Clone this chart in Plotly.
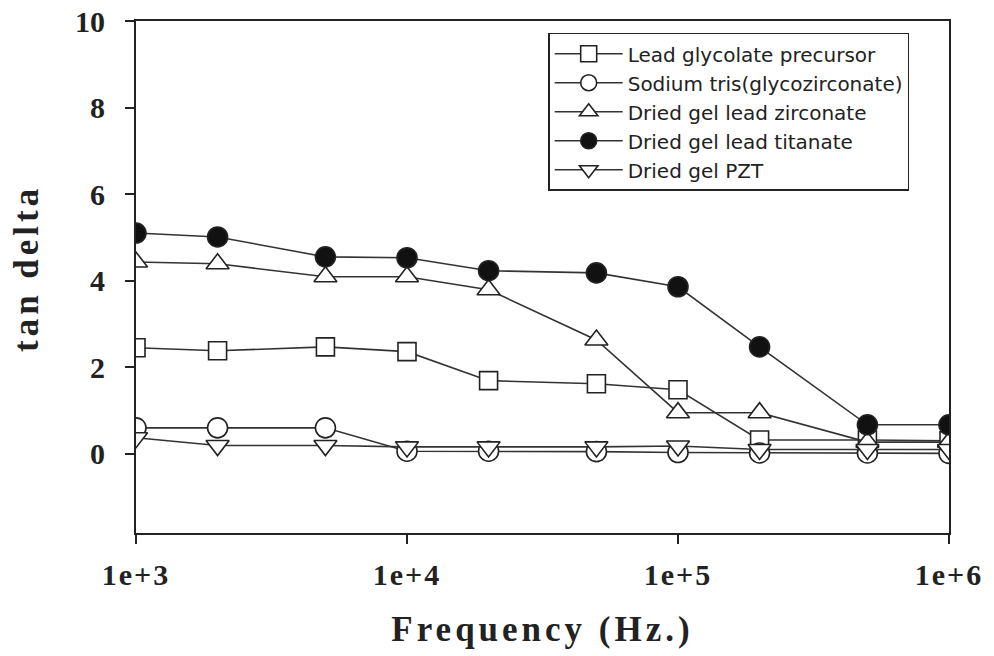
import plotly.graph_objects as go

# Frequency sweep (Hz) and measured loss tangent for each sample
freq = [1e3, 2e3, 5e3, 1e4, 2e4, 5e4, 1e5, 2e5, 5e5, 1e6]

lead_glycolate = [2.45, 2.38, 2.47, 2.36, 1.69, 1.62, 1.48, 0.32, 0.32, 0.30]
sodium_tris = [0.60, 0.60, 0.60, 0.06, 0.06, 0.05, 0.03, 0.02, 0.02, 0.01]
gel_zirconate = [4.43, 4.39, 4.09, 4.09, 3.79, 2.63, 0.95, 0.95, 0.27, 0.27]
gel_titanate = [5.10, 5.01, 4.55, 4.53, 4.23, 4.18, 3.86, 2.47, 0.67, 0.67]
gel_pzt = [0.37, 0.19, 0.19, 0.16, 0.16, 0.16, 0.18, 0.10, 0.10, 0.10]

series_names = [
    "Lead glycolate precursor",
    "Sodium tris(glycozirconate)",
    "Dried gel lead zirconate",
    "Dried gel lead titanate",
    "Dried gel PZT",
]
series_values = [lead_glycolate, sodium_tris, gel_zirconate, gel_titanate, gel_pzt]
symbols = ["square", "circle", "triangle-up", "circle", "triangle-down"]
fills = ["white", "white", "white", "#111111", "white"]
sizes = [18, 20, 20, 20, 20]

x_ticks = [1e3, 1e4, 1e5, 1e6]
x_tick_text = ["1e+3", "1e+4", "1e+5", "1e+6"]
y_ticks = [0, 2, 4, 6, 8, 10]

ink = "#222222"
fig = go.Figure()
for name, vals, sym, fc, sz in zip(series_names, series_values, symbols, fills, sizes):
    fig.add_trace(go.Scatter(
        x=freq, y=vals, name=name, mode="lines+markers",
        line=dict(color="#333333", width=1.6),
        marker=dict(symbol=sym, size=sz, color=fc, line=dict(color=ink, width=1.6)),
    ))

serif = "Liberation Serif, Times New Roman, serif"
fig.update_layout(
    width=994, height=656,
    margin=dict(l=136, r=45, t=21, b=123, autoexpand=False),
    paper_bgcolor="white", plot_bgcolor="white",
    showlegend=True,
    legend=dict(
        x=0.507, y=0.977, xanchor="left", yanchor="top",
        bordercolor=ink, borderwidth=1.5, bgcolor="white",
        font=dict(family="DejaVu Sans, Verdana, sans-serif", size=20, color=ink),
        tracegroupgap=0, itemwidth=68,
    ),
    xaxis=dict(
        type="log", range=[3, 6], tickvals=x_ticks,
        ticktext=["<b>%s</b>" % t for t in x_tick_text],
        tickfont=dict(family=serif, size=30, color=ink),
        ticks="outside", ticklen=9, tickwidth=1.5, tickcolor=ink,
        ticklabelstandoff=5, automargin=False,
        showline=True, linecolor=ink, linewidth=2, mirror=True,
        showgrid=False, zeroline=False,
        title=dict(text="<b>Frequency (Hz.)</b>",
                   font=dict(family=serif, size=35, color=ink), standoff=26),
    ),
    yaxis=dict(
        range=[-1.83, 10], tickvals=y_ticks,
        ticktext=["<b>%d</b>" % v for v in y_ticks],
        tickfont=dict(family=serif, size=30, color=ink),
        ticks="outside", ticklen=9, tickwidth=1.5, tickcolor=ink,
        ticklabelstandoff=14, automargin=False,
        showline=True, linecolor=ink, linewidth=2, mirror=True,
        showgrid=False, zeroline=False,
    ),
    annotations=[dict(
        text="<b>tan delta</b>", textangle=-90, showarrow=False,
        xref="paper", yref="paper", x=0, y=0.5,
        xanchor="center", yanchor="middle", xshift=-110, yshift=8,
        font=dict(family=serif, size=35, color=ink),
    )],
)

# Widen the letter spacing of the axis titles and tick labels
spacing_js = """
var gd = document.getElementById('{plot_id}');
function spaceText() {
  gd.querySelectorAll('.g-xtitle text, .annotation-text').forEach(function (t) {
    t.style.letterSpacing = '4px';
  });
  gd.querySelectorAll('.xtick text').forEach(function (t) {
    t.style.letterSpacing = '2px';
  });
}
spaceText();
gd.on('plotly_afterplot', spaceText);
"""

fig.write_html("out.html", post_script=spacing_js)
